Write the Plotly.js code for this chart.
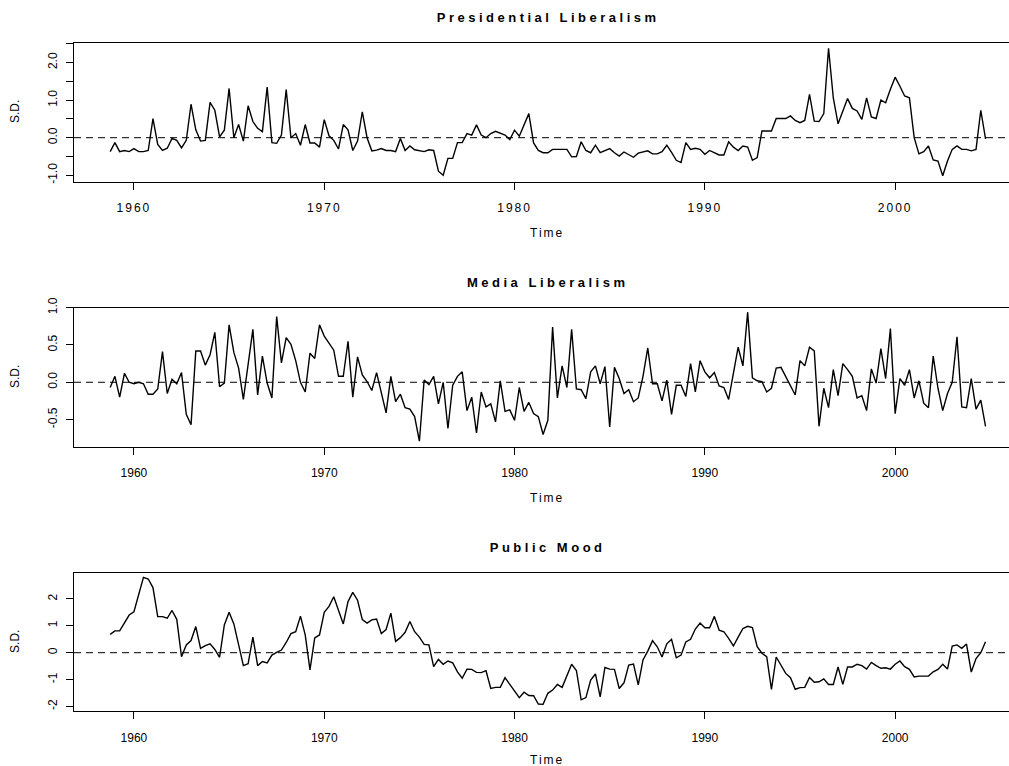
<!DOCTYPE html>
<html>
<head>
<meta charset="utf-8">
<script src="https://cdn.plot.ly/plotly-3.0.1.min.js"></script>
<style>
  html, body { margin: 0; padding: 0; overflow: hidden; background: #fff; }
  #chart { width: 1040px; height: 766px; }
  .xtick text { letter-spacing: 2px; }
  .annotation[data-index="0"] text,
  .annotation[data-index="1"] text,
  .annotation[data-index="2"] text { letter-spacing: 3.5px; }
  .annotation[data-index="3"] text,
  .annotation[data-index="4"] text,
  .annotation[data-index="5"] text { letter-spacing: 2px; }
</style>
</head>
<body>
<div id="chart"></div>
<script>
// Quarterly series, 1958 Q4 to 2004 Q4 (185 quarters)
const startYear = 1958.75;
const nQuarters = 185;

const panelTitles = ["Presidential Liberalism", "Media Liberalism", "Public Mood"];
const xTickYears = [1960, 1970, 1980, 1990, 2000];

const presidential = [
-0.37,-0.13,-0.37,-0.34,-0.37,-0.29,-0.37,-0.37,-0.34,0.51,
-0.18,-0.34,-0.28,-0.02,-0.07,-0.27,-0.07,0.89,0.21,-0.09,
-0.07,0.94,0.73,0.02,0.20,1.31,0.00,0.35,-0.09,0.85,
0.43,0.25,0.16,1.35,-0.13,-0.15,0.07,1.28,0.00,0.11,
-0.20,0.35,-0.14,-0.14,-0.25,0.48,0.05,-0.07,-0.30,0.35,
0.21,-0.34,-0.09,0.69,0.00,-0.35,-0.33,-0.29,-0.34,-0.34,
-0.37,-0.02,-0.34,-0.22,-0.32,-0.34,-0.37,-0.32,-0.34,-0.89,
-1.00,-0.55,-0.55,-0.13,-0.13,0.11,0.07,0.34,0.07,0.00,
0.11,0.17,0.11,0.07,-0.05,0.20,0.04,0.35,0.64,-0.14,
-0.34,-0.40,-0.40,-0.31,-0.31,-0.31,-0.31,-0.51,-0.50,-0.11,
-0.34,-0.40,-0.20,-0.40,-0.35,-0.29,-0.40,-0.49,-0.38,-0.44,
-0.52,-0.41,-0.37,-0.35,-0.43,-0.43,-0.37,-0.20,-0.39,-0.60,
-0.66,-0.13,-0.31,-0.28,-0.31,-0.44,-0.34,-0.40,-0.46,-0.46,
-0.11,-0.25,-0.34,-0.22,-0.25,-0.60,-0.53,0.18,0.18,0.18,
0.51,0.51,0.51,0.58,0.46,0.40,0.46,1.15,0.44,0.43,
0.64,2.38,1.06,0.37,0.71,1.04,0.78,0.71,0.49,1.06,
0.55,0.51,1.00,0.93,1.29,1.61,1.37,1.11,1.06,0.00,
-0.43,-0.37,-0.22,-0.59,-0.62,-1.01,-0.62,-0.31,-0.22,-0.31,
-0.31,-0.35,-0.31,0.73,-0.03];

const media = [
-0.07,0.08,-0.20,0.12,0.00,-0.02,0.00,-0.02,-0.16,-0.16,
-0.09,0.41,-0.15,0.04,-0.02,0.13,-0.43,-0.57,0.42,0.42,
0.23,0.37,0.67,-0.06,-0.01,0.77,0.40,0.19,-0.23,0.28,
0.71,-0.17,0.35,-0.01,-0.21,0.88,0.26,0.60,0.51,0.29,
0.00,-0.13,0.39,0.32,0.77,0.62,0.52,0.43,0.08,0.08,
0.55,-0.20,0.34,0.10,0.01,-0.11,0.13,-0.15,-0.41,0.08,
-0.26,-0.16,-0.34,-0.36,-0.46,-0.79,0.03,-0.03,0.08,-0.29,
0.00,-0.62,-0.04,0.08,0.14,-0.38,-0.20,-0.68,-0.13,-0.33,
-0.29,-0.53,0.02,-0.39,-0.37,-0.51,-0.07,-0.39,-0.27,-0.42,
-0.46,-0.70,-0.51,0.74,-0.21,0.22,-0.07,0.71,-0.09,-0.10,
-0.22,0.14,0.22,-0.02,0.21,-0.60,0.20,0.05,-0.15,-0.10,
-0.26,-0.21,0.08,0.46,-0.02,-0.02,-0.25,0.03,-0.43,-0.04,
-0.04,-0.19,0.25,-0.13,0.29,0.14,0.06,0.13,-0.05,-0.07,
-0.23,0.12,0.47,0.22,0.94,0.06,0.02,0.01,-0.13,-0.08,
0.19,0.20,0.08,-0.03,-0.17,0.29,0.22,0.47,0.42,-0.59,
-0.08,-0.34,0.17,-0.18,0.25,0.17,0.08,-0.21,-0.18,-0.38,
0.18,-0.01,0.45,0.05,0.72,-0.42,0.05,-0.04,0.17,-0.21,
0.02,-0.28,-0.34,0.35,-0.08,-0.38,-0.15,0.00,0.61,-0.33,
-0.34,0.05,-0.36,-0.24,-0.59];

const mood = [
0.68,0.81,0.81,1.13,1.40,1.52,2.21,2.80,2.74,2.42,
1.34,1.34,1.28,1.57,1.24,-0.15,0.29,0.45,0.97,0.16,
0.26,0.33,0.12,-0.17,1.03,1.50,1.07,0.29,-0.48,-0.41,
0.58,-0.48,-0.33,-0.38,-0.09,0.01,0.10,0.38,0.71,0.78,
1.36,0.66,-0.64,0.55,0.66,1.50,1.72,2.08,1.55,1.07,
1.90,2.24,1.95,1.23,1.10,1.22,1.25,0.71,0.86,1.47,
0.42,0.56,0.76,1.16,0.78,0.58,0.31,0.29,-0.52,-0.25,
-0.43,-0.31,-0.38,-0.71,-0.95,-0.61,-0.62,-0.73,-0.74,-0.67,
-1.33,-1.29,-1.29,-0.93,-1.18,-1.45,-1.67,-1.47,-1.59,-1.60,
-1.91,-1.92,-1.51,-1.39,-1.18,-1.29,-0.83,-0.43,-0.66,-1.75,
-1.67,-1.02,-0.79,-1.64,-0.55,-0.61,-0.62,-1.33,-1.12,-0.46,
-0.42,-1.20,-0.27,0.06,0.45,0.22,-0.16,0.33,0.50,-0.19,
-0.09,0.40,0.50,0.88,1.10,0.93,0.93,1.35,0.84,0.78,
0.53,0.25,0.58,0.90,0.98,0.93,0.22,-0.02,-0.15,-1.36,
-0.16,-0.46,-0.77,-0.93,-1.36,-1.30,-1.29,-0.92,-1.10,-1.08,
-0.97,-1.18,-1.18,-0.53,-1.18,-0.53,-0.53,-0.43,-0.48,-0.61,
-0.36,-0.48,-0.58,-0.56,-0.61,-0.43,-0.31,-0.52,-0.62,-0.90,
-0.87,-0.87,-0.87,-0.71,-0.62,-0.43,-0.61,0.25,0.29,0.16,
0.32,-0.72,-0.22,0.00,0.41];

const yTicks1 = [-1, -0.5, 0, 0.5, 1, 1.5, 2, 2.5];
const yText1  = ["-1.0", "", "0.0", "", "1.0", "", "2.0", ""];
const yTicks2 = [-0.5, 0, 0.5, 1];
const yText2  = ["-0.5", "0.0", "0.5", "1.0"];
const yTicks3 = [-2, -1, 0, 1, 2];
const yText3  = ["-2", "-1", "0", "1", "2"];

const time = [];
for (let i = 0; i < nQuarters; i++) time.push(startYear + i / 4);

const W = 1040, H = 766;
const FONT = '"Liberation Sans", Arial, Helvetica, sans-serif';
const plotL = 74, plotR = 1021.7;
const panels = [
  {top: 42.7, bottom: 181.5, range: [-1.165, 2.527], tv: yTicks1, tt: yText1, data: presidential},
  {top: 307.7, bottom: 446.5, range: [-0.861, 1.0], tv: yTicks2, tt: yText2, data: media},
  {top: 572.7, bottom: 711.2, range: [-2.175, 2.974], tv: yTicks3, tt: yText3, data: mood}
];

const traces = [];
const layout = {
  width: W, height: H,
  margin: {l: 0, r: 0, t: 0, b: 0},
  paper_bgcolor: '#fff', plot_bgcolor: '#fff',
  showlegend: false,
  font: {family: FONT, size: 12, color: '#000'},
  shapes: [], annotations: []
};

const xd = [plotL / W, plotR / W];
panels.forEach((p, k) => {
  const sfx = k === 0 ? '' : String(k + 1);
  traces.push({
    x: time, y: p.data, type: 'scatter', mode: 'lines',
    line: {color: '#000', width: 1.4},
    xaxis: 'x' + sfx, yaxis: 'y' + sfx, hoverinfo: 'skip'
  });
  layout['xaxis' + sfx] = {
    domain: xd, anchor: 'y' + sfx,
    range: [1956.85, 2006.65],
    tickmode: 'array', tickvals: xTickYears, ticktext: xTickYears.map(String),
    ticks: 'outside', ticklen: 7, tickwidth: 1, tickcolor: '#000',
    showline: true, linecolor: '#000', linewidth: 1, mirror: true,
    showgrid: false, zeroline: false,
    tickfont: {family: FONT, size: 12, color: '#000'},
    ticklabelstandoff: 8, fixedrange: true
  };
  layout['yaxis' + sfx] = {
    domain: [1 - p.bottom / H, 1 - p.top / H], anchor: 'x' + sfx,
    range: p.range,
    tickmode: 'array', tickvals: p.tv, ticktext: p.tt,
    tickangle: -90,
    ticks: 'outside', ticklen: 7, tickwidth: 1, tickcolor: '#000',
    showline: true, linecolor: '#000', linewidth: 1, mirror: true,
    showgrid: false, zeroline: false,
    tickfont: {family: FONT, size: 12, color: '#000'},
    ticklabelstandoff: 4, fixedrange: true
  };
  layout.shapes.push({
    type: 'line', xref: 'x' + sfx + ' domain', yref: 'y' + sfx,
    x0: 0, x1: 1, y0: 0, y1: 0, layer: 'below',
    line: {color: '#000', width: 1, dash: '7px,5px'}
  });
});

const cx = ((plotL + plotR) / 2) / W;
// titles
panels.forEach((p, k) => {
  layout.annotations.push({
    text: panelTitles[k], xref: 'paper', yref: 'paper',
    x: cx, y: 1 - (p.top - 25.5) / H, xanchor: 'center', yanchor: 'middle',
    showarrow: false, font: {family: FONT, size: 13, color: '#000', weight: 'bold'}
  });
});
// x axis titles
panels.forEach((p, k) => {
  layout.annotations.push({
    text: 'Time', xref: 'paper', yref: 'paper',
    x: cx, y: 1 - Math.min(p.bottom + 51.5, 760) / H, xanchor: 'center', yanchor: 'middle',
    showarrow: false, font: {family: FONT, size: 12, color: '#000'}
  });
});
// y axis titles
panels.forEach((p, k) => {
  layout.annotations.push({
    text: 'S.D.', xref: 'paper', yref: 'paper', textangle: -90,
    x: 15 / W, y: 1 - ((p.top + p.bottom) / 2) / H, xanchor: 'center', yanchor: 'middle',
    showarrow: false, font: {family: FONT, size: 12, color: '#000'}
  });
});

Plotly.newPlot('chart', traces, layout, {staticPlot: true, displayModeBar: false});
</script>
</body>
</html>
